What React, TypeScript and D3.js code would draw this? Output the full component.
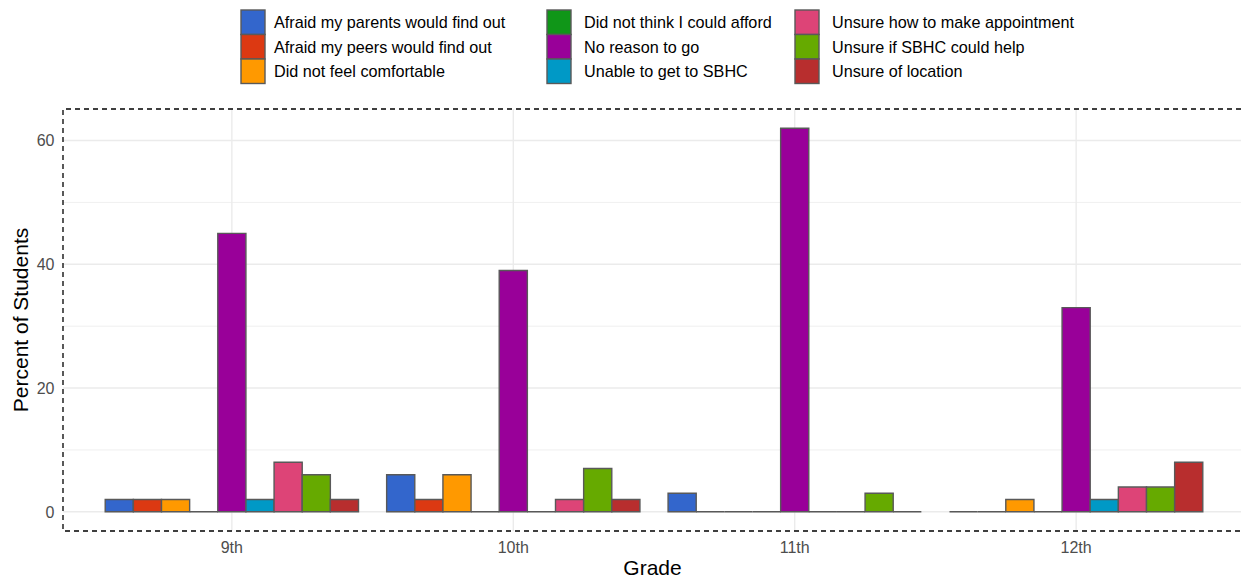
import React from "react";
import * as d3 from "d3";

const grades = ["9th", "10th", "11th", "12th"];
const reasons = [
  "Afraid my parents would find out",
  "Afraid my peers would find out",
  "Did not feel comfortable",
  "Did not think I could afford",
  "No reason to go",
  "Unable to get to SBHC",
  "Unsure how to make appointment",
  "Unsure if SBHC could help",
  "Unsure of location",
];
const colors = ["#3366CC", "#DC3912", "#FF9900", "#109618", "#990099", "#0099C6", "#DD4477", "#66AA00", "#B82E2E"];
// values per reason, in grade order
const parents = [2, 6, 3, 0];
const peers = [2, 2, 0, 0];
const comfortable = [2, 6, 0, 2];
const afford = [0, 0, 0, 0];
const noReason = [45, 39, 62, 33];
const unable = [2, 0, 0, 2];
const appointment = [8, 2, 0, 4];
const couldHelp = [6, 7, 3, 4];
const location = [2, 2, 0, 8];
const seriesValues = [parents, peers, comfortable, afford, noReason, unable, appointment, couldHelp, location];
const yTicks = [0, 20, 40, 60];
const yMinor = [10, 30, 50];

export default function App() {
  const W = 1241, H = 580;
  const left = 63, right = 1245, top = 109, bottom = 531;
  const maxV = 62;
  const y = d3.scaleLinear().domain([-maxV * 0.05, maxV * 1.05]).range([bottom, top]);
  const step = (right - left) / (grades.length - 1 + 1.2);
  const cx = (i: number) => left + (0.6 + i) * step;
  const inner = d3.scaleBand().domain(reasons).range([-0.45 * step, 0.45 * step]);
  const font = "Liberation Sans, Arial, sans-serif";

  const legendCols = [
    { kx: 241, tx: 274 },
    { kx: 547, tx: 584 },
    { kx: 795, tx: 832 },
  ];
  const keySize = 24.5;
  const legendTop = 10;

  return (
    <svg width={W} height={H} style={{ position: "absolute", left: 0, top: 0, fontFamily: font }}>
      <rect x={0} y={0} width={W} height={H} fill="#fff" />
      {yMinor.map((t) => (
        <line key={"m" + t} x1={left} x2={W} y1={y(t)} y2={y(t)} stroke="#EBEBEB" strokeWidth={0.8} />
      ))}
      {yTicks.map((t) => (
        <line key={"g" + t} x1={left} x2={W} y1={y(t)} y2={y(t)} stroke="#EBEBEB" strokeWidth={1.4} />
      ))}
      {grades.map((g, i) => (
        <line key={"v" + g} x1={cx(i)} x2={cx(i)} y1={top} y2={bottom} stroke="#EBEBEB" strokeWidth={1.4} />
      ))}
      {grades.map((g, gi) =>
        reasons.map((r, ri) => {
          const v = seriesValues[ri][gi];
          const x0 = cx(gi) + (inner(r) as number);
          const x1 = x0 + inner.bandwidth();
          const y0 = y(Math.max(v, 0));
          const y1 = y(0);
          const d = `M${x0},${y1}L${x0},${y0}L${x1},${y0}L${x1},${y1}Z`;
          return <path key={g + r} d={d} fill={colors[ri]} stroke="#595959" strokeWidth={1.4} />;
        })
      )}
      <path
        d={`M${W},${top}L${left},${top}L${left},${bottom}L${W},${bottom}`}
        fill="none"
        stroke="#000"
        strokeWidth={1.3}
        strokeDasharray="5,4"
      />
      {yTicks.map((t) => (
        <text key={"yl" + t} x={54.5} y={y(t)} dy="0.36em" textAnchor="end" fontSize={16} fill="#4D4D4D">
          {t}
        </text>
      ))}
      {grades.map((g, i) => (
        <text key={"xl" + g} x={cx(i)} y={547} dy="0.36em" textAnchor="middle" fontSize={16} fill="#4D4D4D">
          {g}
        </text>
      ))}
      <text x={652.5} y={567} dy="0.36em" textAnchor="middle" fontSize={21} fill="#000">
        Grade
      </text>
      <text transform={`translate(20,${(top + bottom) / 2}) rotate(-90)`} dy="0.36em" textAnchor="middle" fontSize={21} fill="#000">
        Percent of Students
      </text>
      {reasons.map((r, i) => {
        const col = legendCols[Math.floor(i / 3)];
        const row = i % 3;
        const ky = legendTop + row * keySize;
        return (
          <g key={"lg" + r}>
            <rect x={col.kx} y={ky} width={keySize - 0.5} height={keySize} fill={colors[i]} stroke="#595959" strokeWidth={1.4} />
            <text x={col.tx} y={ky + keySize / 2} dy="0.36em" fontSize={16.2} fill="#000">
              {r}
            </text>
          </g>
        );
      })}
    </svg>
  );
}
